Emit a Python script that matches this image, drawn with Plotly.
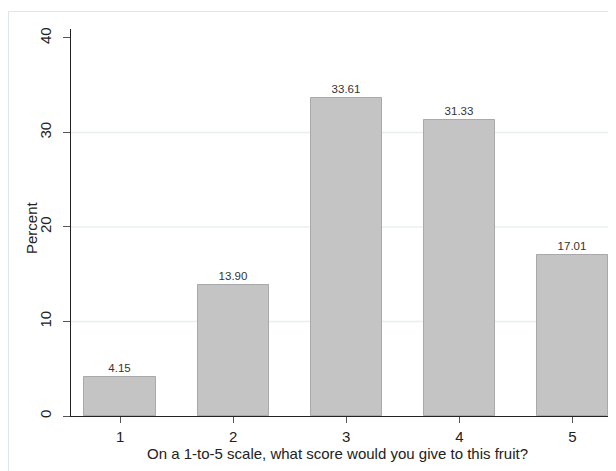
import plotly.graph_objects as go

categories = [1, 2, 3, 4, 5]
percents = [4.15, 13.90, 33.61, 31.33, 17.01]
y_ticks = [0, 10, 20, 30, 40]
grid_values = [10, 20, 30]
x_title = "On a 1-to-5 scale, what score would you give to this fruit?"
y_title = "Percent"

# the page body adds an 8px offset, so figure coords = screen coords - 8
W, H = 616, 471
L, R, T, B = 63, 12, 21, 63
pw = W - L - R
ph = H - T - B

def px_x(px):
    return (px - L) / pw

def px_y(py):
    return (H - B - py) / ph

fig = go.Figure()
fig.add_trace(go.Bar(
    x=categories, y=percents, width=0.63,
    marker=dict(color="#c4c4c4", line=dict(color="#a9a9a9", width=1)),
    texttemplate="%{y:.2f}", textposition="outside",
    textfont=dict(size=11.5, color="#333333"),
    cliponaxis=False,
))

font = "Arial, Liberation Sans, sans-serif"
shapes = [dict(
    type="rect", xref="paper", yref="paper",
    x0=px_x(0.5), x1=px_x(W + 20), y0=px_y(H + 20), y1=px_y(3.5),
    line=dict(color="#dbe8ea", width=1), fillcolor="rgba(0,0,0,0)",
    layer="below",
)]
for g in grid_values:
    shapes.append(dict(type="line", xref="paper", yref="y", x0=0, x1=1, y0=g, y1=g,
                       line=dict(color="#e8efef", width=1.5), layer="below"))

fig.update_layout(
    width=W, height=H,
    margin=dict(l=L, r=R, t=T, b=B, pad=0),
    paper_bgcolor="white", plot_bgcolor="white",
    font=dict(family=font, size=15, color="#222222"),
    showlegend=False, bargap=0,
    xaxis=dict(
        range=[0.566, 5.35], tickmode="array", tickvals=categories,
        ticktext=[str(c) for c in categories],
        showline=True, linecolor="#222222", linewidth=1,
        ticks="outside", ticklen=6, tickcolor="#555555", tickwidth=1,
        ticklabelstandoff=1,
        showgrid=False, zeroline=False,
        tickfont=dict(size=15),
    ),
    yaxis=dict(
        range=[0, 40.95], tickmode="array", tickvals=y_ticks,
        ticktext=[str(t) for t in y_ticks], tickangle=-90,
        showline=True, linecolor="#222222", linewidth=1,
        ticks="outside", ticklen=7, tickcolor="#555555", tickwidth=1,
        ticklabelstandoff=6,
        showgrid=False, zeroline=False,
        tickfont=dict(size=15),
    ),
    annotations=[
        dict(text=x_title, xref="paper", yref="paper",
             x=px_x(337 - 8), y=px_y(453 - 8), xanchor="center", yanchor="middle",
             showarrow=False, font=dict(size=15, color="#222222")),
        dict(text=y_title, xref="paper", yref="paper", textangle=-90,
             x=px_x(31 - 8), y=px_y(228 - 8), xanchor="center", yanchor="middle",
             showarrow=False, font=dict(size=15, color="#222222")),
    ],
    shapes=shapes,
)

fig.write_html("out.html")
